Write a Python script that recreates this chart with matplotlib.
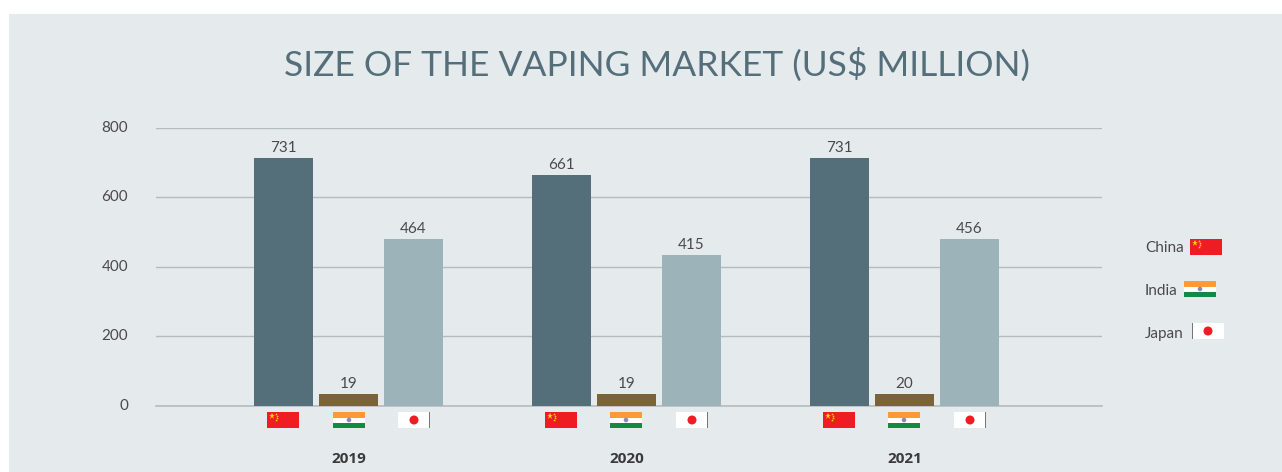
import numpy as np
import matplotlib
matplotlib.use("Agg")
import matplotlib.pyplot as plt
from matplotlib.patches import Rectangle, Circle

# =======================
# Data
# =======================
years = ["2019", "2020", "2021"]
countries = ["China", "India", "Japan"]
# labels printed on the bars
china_labels = ["731", "661", "731"]
india_labels = ["19", "19", "20"]
japan_labels = ["464", "415", "456"]
# drawn bar heights (they don't follow the labels exactly)
china_bars = [712, 663, 712]
india_bars = [34, 34, 34]
japan_bars = [480, 434, 480]
y_ticks = [0, 200, 400, 600, 800]

BG = "#e5eaed"
DARK = "#546e7a"
BROWN = "#7a6339"
LIGHT = "#9cb3ba"
TEXT = "#4a4a4a"

plt.rcParams["font.family"] = ["Lato", "DejaVu Sans"]

fig = plt.figure(figsize=(12.82, 4.72), dpi=100, facecolor="white")

# overlay in pixel coords for the panel + flags
bg = fig.add_axes([0, 0, 1, 1], zorder=0)
bg.set_xlim(0, 1282)
bg.set_ylim(472, 0)
bg.axis("off")
bg.add_patch(Rectangle((9, 14), 1273, 458, color=BG, lw=0))

top = fig.add_axes([0, 0, 1, 1], zorder=2)
top.set_xlim(0, 1282)
top.set_ylim(472, 0)
top.axis("off")
top.patch.set_alpha(0)


def china_flag(x, y):
    top.add_patch(Rectangle((x, y), 32, 16, color="#f01c24", lw=0))
    top.plot([x + 4.5], [y + 4], marker="*", ms=5, color="#ffde00", mew=0)
    for dx, dy in [(8.5, 1.5), (10, 3.5), (10, 6), (8.5, 8)]:
        top.plot([x + dx], [y + dy], marker="*", ms=2, color="#ffde00", mew=0)


def india_flag(x, y):
    top.add_patch(Rectangle((x, y), 32, 5.5, color="#ff9933", lw=0))
    top.add_patch(Rectangle((x, y + 5.5), 32, 5, color="white", lw=0))
    top.add_patch(Rectangle((x, y + 10.5), 32, 5.5, color="#138a43", lw=0))
    top.add_patch(Circle((x + 16, y + 8), 2.3, color="#8a8ab8", lw=0))


def japan_flag(x, y, line_left=False):
    top.add_patch(Rectangle((x, y), 32, 16, color="white", lw=0))
    top.add_patch(Circle((x + 16, y + 8), 4.5, color="#f01c24", lw=0))
    lx = x if line_left else x + 31
    top.add_patch(Rectangle((lx, y), 1, 16, color="#777777", lw=0))


# =======================
# Bars
# =======================
ax = fig.add_axes([156 / 1282, 1 - 406 / 472, (1102 - 156) / 1282, (406 - 127.5) / 472], zorder=1)
ax.patch.set_alpha(0)

x = np.arange(len(years))
w = 59 / 278
off = 65 / 278
series = [
    (china_bars, china_labels, DARK, -off),
    (india_bars, india_labels, BROWN, 0),
    (japan_bars, japan_labels, LIGHT, off),
]
for heights, labels, col, dx in series:
    bars = ax.bar(x + dx, heights, width=w, color=col, zorder=3)
    ax.bar_label(bars, labels=labels, padding=2, fontsize=11, color=TEXT)

ax.set_xlim((156 - 348.5) / 278, (1102 - 348.5) / 278)
ax.set_ylim(0, 800)
ax.set_yticks(y_ticks)
ax.set_xticks(x)
ax.set_xticklabels(years, fontsize=11, fontweight="bold", color="#3a3a3a", family="Open Sans")
ax.tick_params(axis="x", length=0, pad=33)
ax.tick_params(axis="y", length=0, pad=20, labelsize=11, labelcolor=TEXT)
for lab in ax.get_yticklabels():
    lab.set_verticalalignment("center")
ax.grid(axis="y", color="#b5bcbf", lw=1, zorder=1)
ax.set_axisbelow(True)
for s in ["top", "right", "left"]:
    ax.spines[s].set_visible(False)
ax.spines["bottom"].set_color("#b5bcbf")
ax.spines["bottom"].set_linewidth(1.2)

# flags under the bars
for fx in [(267, 333, 398), (545, 610, 676), (823, 888, 954)]:
    china_flag(fx[0], 412)
    india_flag(fx[1], 412)
    japan_flag(fx[2], 412)

# =======================
# Title + legend
# =======================
top.text(657, 65, "SIZE OF THE VAPING MARKET (US$ MILLION)", fontsize=25.5,
         color=DARK, ha="center", va="center")

for name, ty in zip(countries, [248, 291, 334]):
    top.text(1145, ty, name, fontsize=11, color=TEXT, ha="left", va="center")
china_flag(1190, 239)
india_flag(1184, 281)
japan_flag(1192, 323, line_left=True)

top.set_xlim(0, 1282)
top.set_ylim(472, 0)

fig.savefig("out.png", dpi=100)
